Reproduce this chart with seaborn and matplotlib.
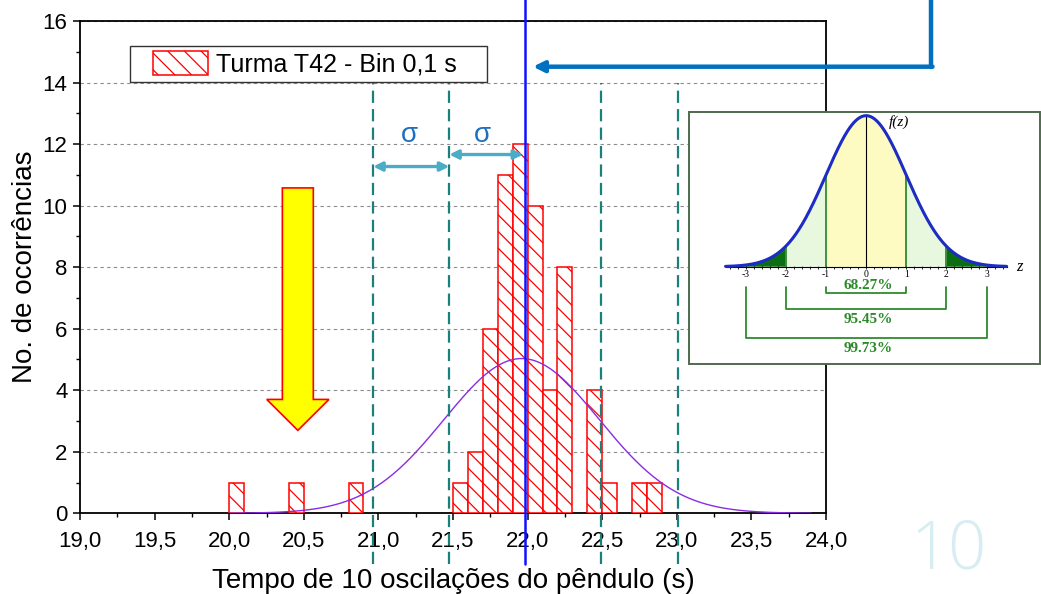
import numpy as np
import pandas as pd
import matplotlib.pyplot as plt
import matplotlib.patches as mpatches
from matplotlib.lines import Line2D
from matplotlib.ticker import FixedLocator
import seaborn as sns

# histogram: left edge of each 0,1 s bin and its count
bin_left = [20.0, 20.4, 20.8, 21.5, 21.6, 21.7, 21.8, 21.9, 22.0, 22.1, 22.2, 22.4, 22.5, 22.7, 22.8]
counts = [1, 1, 1, 1, 2, 6, 11, 12, 10, 4, 8, 4, 1, 1, 1]

# mean / standard deviation markers and the gaussian fit
mean_t = 21.985
sigma_t = 0.51
fit_mu, fit_sigma, fit_amp = 21.96, 0.52, 5.03

x_ticks = [19.0, 19.5, 20.0, 20.5, 21.0, 21.5, 22.0, 22.5, 23.0, 23.5, 24.0]
x_tick_labels = ["19,0", "19,5", "20,0", "20,5", "21,0", "21,5", "22,0", "22,5", "23,0", "23,5", "24,0"]
y_ticks = [0, 2, 4, 6, 8, 10, 12, 14, 16]

# inset: standard normal with 1, 2, 3 sigma brackets
pct_levels = [1, 2, 3]
pct_labels = ["68.27%", "95.45%", "99.73%"]
pct_bracket_y = [-0.0687, -0.1127, -0.1876]
pct_text_y = [-0.0484, -0.139, -0.2157]
inset_z_ticks = [-3, -2, -1, 0, 1, 2, 3]
inset_z_labels = ["-3", "-2", "-1", "0", "1", "2", "3"]
inset_f_ticks = [0.1, 0.2, 0.3]
inset_f_labels = ["0.1", "0.2", "0.3"]

HATCH = "\\\\"
W, H = 1041, 594

sns.set_theme(style="ticks")
plt.rcParams["font.family"] = ["Liberation Sans", "DejaVu Sans"]
plt.rcParams["hatch.linewidth"] = 0.9
plt.rcParams["hatch.color"] = "red"
for key in ["text.color", "axes.labelcolor", "xtick.color", "ytick.color", "xtick.labelcolor", "ytick.labelcolor"]:
    plt.rcParams[key] = "black"

fig = plt.figure(figsize=(W / 100, H / 100), dpi=100)
ax = fig.add_axes([80 / W, 1 - 513.3 / H, 746 / W, 492.3 / H])

df = pd.DataFrame({"t": [b + 0.05 for b in bin_left], "n": counts})
sns.histplot(data=df, x="t", weights="n", binwidth=0.1, binrange=(20.0, 22.9),
             color="red", alpha=1, ax=ax, zorder=3)
for p in list(ax.patches):
    if p.get_height() == 0:
        p.set_visible(False)
        continue
    p.set_facecolor("white")
    p.set_edgecolor("red")
    p.set_linewidth(1.1)
    p.set_hatch(HATCH)

# gaussian fit
xs = np.linspace(20.0, 23.9, 300)
ys = fit_amp * np.exp(-((xs - fit_mu) ** 2) / (2 * fit_sigma ** 2))
sns.lineplot(x=xs, y=ys, color="#8a2be2", lw=1.0, ax=ax, zorder=4)

# sigma lines and mean
for k in [-2, -1, 1, 2]:
    ax.plot([mean_t + k * sigma_t] * 2, [-1.65, 14], color="#1b7f7a", lw=1.6,
            ls=(0, (5.5, 2.8)), clip_on=False, zorder=5)
ax.plot([mean_t, mean_t], [-1.65, 16.75], color="#1010ff", lw=1.8, clip_on=False, zorder=6)

arrow_kw = dict(arrowstyle="<|-|>", color="#4bacc6", lw=2.4, mutation_scale=13, shrinkA=0, shrinkB=0)
ax.annotate("", xy=(mean_t - sigma_t, 11.27), xytext=(mean_t - 2 * sigma_t, 11.27), arrowprops=arrow_kw)
ax.annotate("", xy=(mean_t - 0.015, 11.66), xytext=(mean_t - sigma_t, 11.66), arrowprops=arrow_kw)
ax.text(21.21, 12.3, "σ", color="#1f6fbf", fontsize=20, ha="center", va="center")
ax.text(21.70, 12.3, "σ", color="#1f6fbf", fontsize=20, ha="center", va="center")

# yellow arrow pointing at the outliers
ax.add_patch(mpatches.FancyArrow(20.46, 10.575, 0, -7.88, width=0.2075, head_width=0.417,
                                 head_length=1.006, length_includes_head=True,
                                 fc="yellow", ec="red", lw=1.2, zorder=5))

ax.set_xlim(19.0, 24.0)
ax.set_ylim(0, 16)
ax.set_xticks(x_ticks)
ax.set_xticklabels(x_tick_labels)
ax.set_yticks(y_ticks)
ax.xaxis.set_minor_locator(FixedLocator(np.arange(19.25, 24.0, 0.5)))
ax.yaxis.set_minor_locator(FixedLocator(range(1, 16, 2)))
ax.tick_params(which="major", direction="out", length=5, width=1.1, labelsize=16, color="black", pad=4)
ax.tick_params(axis="x", which="major", pad=8)
ax.tick_params(which="minor", direction="out", length=3, width=1.0, color="black")
ax.yaxis.grid(True, linestyle=(0, (3, 3)), color="#8c8c8c", lw=0.8)
ax.xaxis.grid(False)
for s in ax.spines.values():
    s.set_visible(True)
    s.set_color("black")
    s.set_linewidth(1.3)
ax.set_xlabel("Tempo de 10 oscilações do pêndulo (s)", fontsize=20, labelpad=11)
ax.set_ylabel("No. de ocorrências", fontsize=20, labelpad=3)

# legend with its own frame
handle = mpatches.Patch(facecolor="white", edgecolor="red", hatch=HATCH, lw=1.1,
                        label="Turma T42 - Bin 0,1 s")
ax.legend(handles=[handle], loc="center left", bbox_to_anchor=(0.098, 0.9127), frameon=False,
          fontsize=18, handlelength=2.2, handleheight=1.12, handletextpad=0.3, borderpad=0,
          borderaxespad=0)
ax.add_patch(mpatches.Rectangle((0.067, 0.876), 0.4786, 0.0731, transform=ax.transAxes,
                                fill=False, ec="#333333", lw=1.0, zorder=7))

# blue elbow arrow in the top right
fig.add_artist(Line2D([931 / W, 931 / W], [1.0, 1 - 66.7 / H], transform=fig.transFigure,
                      color="#0070c0", lw=3.2))
ax.annotate("", xy=(533 / W, 1 - 66.7 / H), xycoords="figure fraction",
            xytext=(932.5 / W, 1 - 66.7 / H), textcoords="figure fraction",
            arrowprops=dict(arrowstyle="-|>", color="#0070c0", lw=3.2, mutation_scale=16,
                            shrinkA=0, shrinkB=0))

# slide number
fig.text(949 / W, 1 - 551 / H, "10", color="#d8edf2", fontsize=48, ha="center", va="center",
         family=["Open Sans", "DejaVu Sans"], fontweight="light")

# inset: standard normal distribution
ax_in = fig.add_axes([689 / W, 1 - 363.5 / H, 351 / W, 252 / H])
ax_in.set_facecolor("white")
ax_in.set_xlim(-4.41, 4.33)
ax_in.set_ylim(-0.2557, 0.410)
z = np.linspace(-3.5, 3.5, 400)
f = np.exp(-z ** 2 / 2) / np.sqrt(2 * np.pi)
ax_in.fill_between(z, f, where=np.abs(z) <= 1, color="#fdfac2", lw=0)
ax_in.fill_between(z, f, where=(np.abs(z) >= 1) & (np.abs(z) <= 2), color="#e8f8df", lw=0)
ax_in.fill_between(z, f, where=np.abs(z) >= 2, color="#0b6e12", lw=0)
for k in [-2, -1, 1, 2]:
    ax_in.plot([k, k], [0, np.exp(-k ** 2 / 2) / np.sqrt(2 * np.pi)], color="#2e8b2e", lw=1.3)
sns.lineplot(x=z, y=f, color="#1c2cc4", lw=2.2, ax=ax_in, zorder=5)

for s in ["top", "right"]:
    ax_in.spines[s].set_visible(False)
ax_in.spines["bottom"].set_position(("data", 0))
ax_in.spines["bottom"].set_bounds(-3.5, 3.5)
ax_in.spines["left"].set_position(("data", 0))
ax_in.spines["left"].set_bounds(0, 0.4)
for s in ["bottom", "left"]:
    ax_in.spines[s].set_color("black")
    ax_in.spines[s].set_linewidth(0.8)
ax_in.set_xticks(inset_z_ticks)
ax_in.set_xticklabels(inset_z_labels)
ax_in.xaxis.set_minor_locator(FixedLocator(np.arange(-3.4, 3.41, 0.2)))
ax_in.set_yticks(inset_f_ticks)
ax_in.set_yticklabels(inset_f_labels)
ax_in.tick_params(axis="x", which="both", direction="inout", length=3, width=0.6, labelsize=7,
                  pad=1, labelfontfamily="Liberation Serif")
ax_in.tick_params(axis="y", direction="in", length=3, width=0.6, labelsize=7, pad=2,
                  labelfontfamily="Liberation Serif")
ax_in.set_xlabel("")
ax_in.set_ylabel("")
ax_in.text(0.82, 0.383, "f(z)", fontsize=11, family="Liberation Serif", style="italic",
           ha="center", va="center")
ax_in.text(3.83, 0.0, "z", fontsize=12, family="Liberation Serif", style="italic",
           ha="center", va="center")

for lvl, lab, by, ty in zip(pct_levels, pct_labels, pct_bracket_y, pct_text_y):
    ax_in.plot([-lvl, -lvl, lvl, lvl], [-0.0528, by, by, -0.0528], color="#2e8b2e", lw=1.3)
    ax_in.text(0.05, ty, lab, color="#2a8a2a", fontsize=11, fontweight="bold",
               family="Liberation Serif", ha="center", va="center")

ax_in.add_patch(mpatches.Rectangle((0, 0), 1, 1, transform=ax_in.transAxes, fill=False,
                                   ec="#4f6a4f", lw=1.4, clip_on=False))

fig.savefig("out.png", dpi=100)
